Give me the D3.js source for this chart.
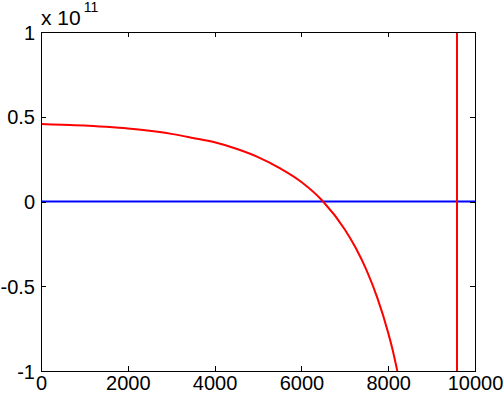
<!DOCTYPE html>
<html lang="en">
  <head>
    <meta charset="UTF-8">
    <title>Curve</title>
    <style>
      body { margin: 0; background: #fff; }
      text { font-family: "Liberation Sans", Arial, sans-serif; }
    </style>
  </head>
  <body>
    <div id="chart"></div>
    <script src="https://d3js.org/d3.v7.min.js"></script>
    <script>
      // curve values, y in units of 1e11
      const curveX = [0, 500, 1000, 1500, 2000, 2500, 3000, 3500, 4000, 4500, 5000, 5500, 6000, 6500, 7000, 7250, 7500, 7750, 8000, 8100, 8210];
      const curveY = [0.457, 0.453, 0.449, 0.441, 0.431, 0.417, 0.399, 0.375, 0.349, 0.311, 0.262, 0.197, 0.115, 0.0, -0.165, -0.273, -0.405, -0.569, -0.775, -0.873, -1.0];
      const zeroLine = [0];
      const verticalLine = [9585];
      const xTicks = [0, 2000, 4000, 6000, 8000, 10000];
      const yTicks = [-1, -0.5, 0, 0.5, 1];

      const W = 504, H = 394;
      const margin = { top: 32, right: 29, bottom: 23, left: 41 };
      const width = W - margin.left - margin.right;
      const height = H - margin.top - margin.bottom;

      const svg = d3.select("#chart").append("svg")
          .attr("width", W)
          .attr("height", H);
      const g = svg.append("g")
          .attr("transform", "translate(" + margin.left + "," + margin.top + ")");

      const x = d3.scaleLinear().domain([0, 10000]).range([0, width]);
      const y = d3.scaleLinear().domain([-1, 1]).range([height, 0]);

      g.append("clipPath").attr("id", "clip")
        .append("rect").attr("width", width).attr("height", height);

      const plot = g.append("g").attr("clip-path", "url(#clip)");

      // blue zero line
      plot.selectAll(".zero").data(zeroLine).enter().append("line")
          .attr("x1", x(0)).attr("x2", x(10000))
          .attr("y1", d => y(d)).attr("y2", d => y(d))
          .attr("stroke", "#0000ff").attr("stroke-width", 2);

      // red curve
      const pts = curveX.map((v, i) => [v, curveY[i]]);
      const line = d3.line().x(d => x(d[0])).y(d => y(d[1])).curve(d3.curveMonotoneX);
      plot.append("path")
          .datum(pts)
          .attr("fill", "none")
          .attr("stroke", "#ff0000")
          .attr("stroke-width", 2)
          .attr("d", line);

      // red vertical line
      plot.selectAll(".vert").data(verticalLine).enter().append("line")
          .attr("x1", d => x(d)).attr("x2", d => x(d))
          .attr("y1", 0).attr("y2", height)
          .attr("stroke", "#ff0000").attr("stroke-width", 2);

      // axes (box style, ticks inward)
      const axB = g.append("g").attr("transform", "translate(0," + height + ")")
          .call(d3.axisBottom(x).tickValues(xTicks).tickSizeInner(-5).tickSizeOuter(0).tickPadding(4).tickFormat(d3.format("d")));
      const axT = g.append("g")
          .call(d3.axisTop(x).tickValues(xTicks).tickSizeInner(-5).tickSizeOuter(0).tickFormat(""));
      const axL = g.append("g")
          .call(d3.axisLeft(y).tickValues(yTicks).tickSizeInner(-5).tickSizeOuter(0).tickPadding(6));
      const axR = g.append("g").attr("transform", "translate(" + width + ",0)")
          .call(d3.axisRight(y).tickValues(yTicks).tickSizeInner(-5).tickSizeOuter(0).tickFormat(""));

      [axB, axT, axL, axR].forEach(a => {
        a.select(".domain").attr("stroke", "#000").attr("stroke-width", 1).attr("shape-rendering", "crispEdges");
        a.selectAll(".tick line").attr("stroke", "#000").attr("shape-rendering", "crispEdges");
        a.selectAll("text").attr("fill", "#000").style("font-size", "20px")
          .style("font-family", "Liberation Sans, Arial, sans-serif");
      });
      axB.selectAll("text").attr("dy", "0.75em");
      axL.selectAll("text").attr("dy", "0.35em").text(d => d < 0 ? "-" + Math.abs(d) : d);

      // exponent label
      const ex = svg.append("text")
          .attr("x", margin.left)
          .attr("y", 25)
          .style("font-size", "21px");
      ex.append("tspan").text("x 10");
      ex.append("tspan").attr("dx", 3).attr("dy", -13).style("font-size", "14px").text("11");
    </script>
  </body>
</html>
